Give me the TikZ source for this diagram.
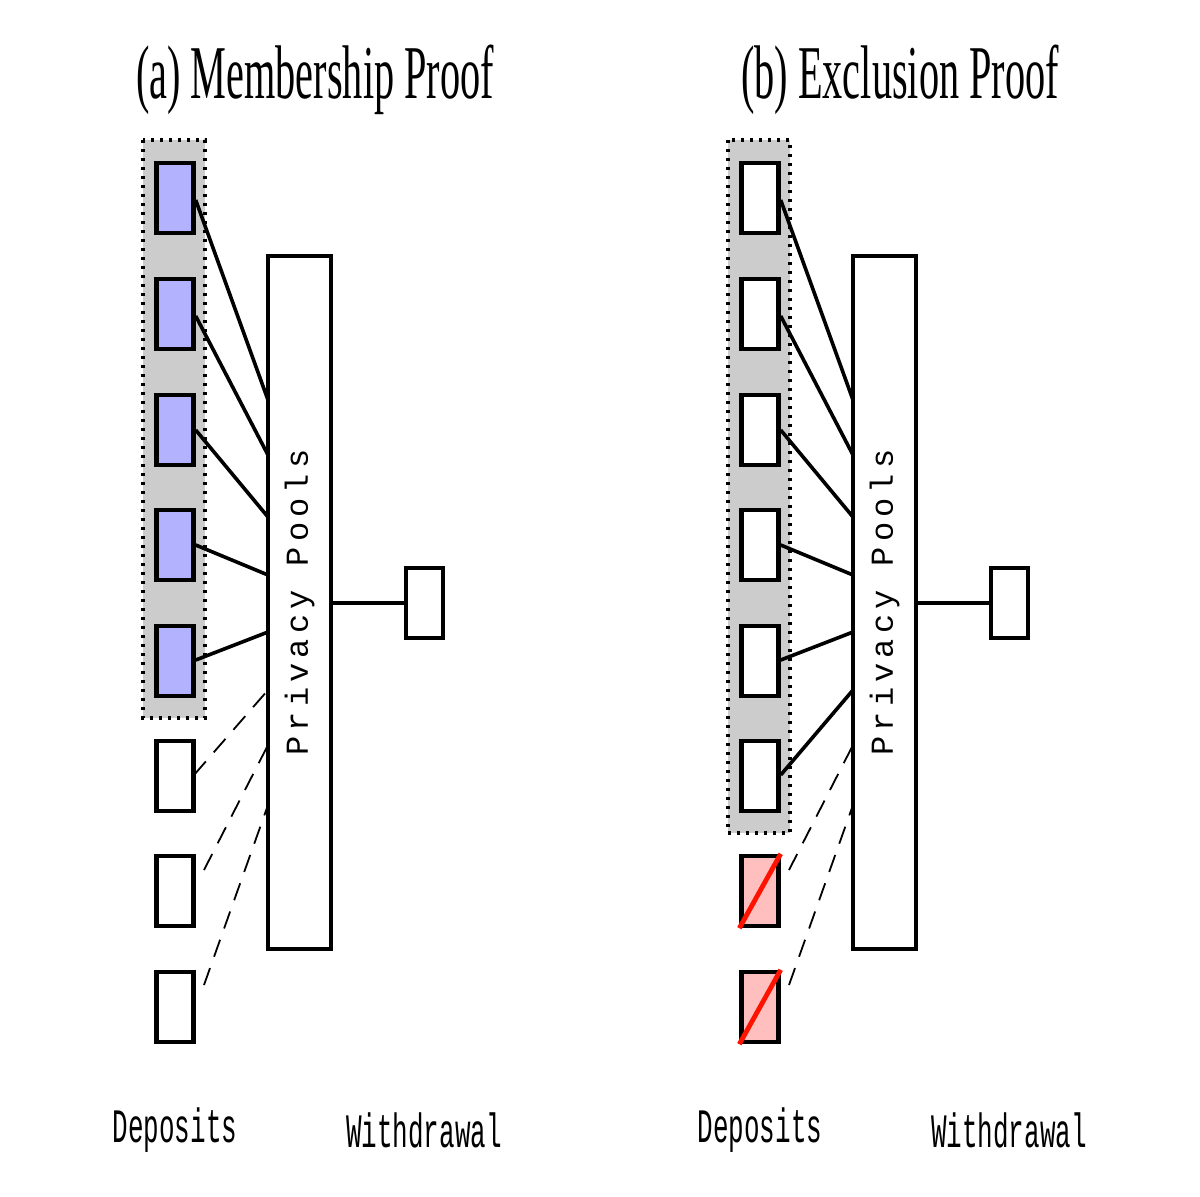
\documentclass[tikz,border=0pt]{standalone}
\usepackage{fontspec}
\setmainfont{Liberation Serif}
\newfontfamily\monof{Liberation Mono}
\newfontfamily\monosp[LetterSpace=16]{Liberation Mono}
\begin{document}
\begin{tikzpicture}[x=0.5pt,y=-0.5pt,
 box/.style={draw,line width=2.2pt},
 cn/.style={line width=1.8pt},
 dcn/.style={line width=0.9pt,dash pattern=on 9pt off 6pt},
 gray box/.style={fill=black!20,draw,line width=2pt,dash pattern=on 1.5pt off 3pt},
 ttl/.style={font=\fontsize{38}{38}\selectfont,xscale=0.53},
 lbl/.style={font=\monof\fontsize{24}{24}\selectfont,xscale=0.54}]
\useasboundingbox (0,0) rectangle (1200,1196);
\foreach \dx/\p in {0/a,585/b}{
 \begin{scope}[xshift=\dx*0.5pt]
 \node[box,fill=white,minimum width=31.5pt,minimum height=346.5pt,inner sep=0] (pool\p) at (299.5,602.5) {};
 \node[rotate=90,font=\monosp\fontsize{16}{16}\selectfont] at (pool\p) {Privacy Pools};
 \node[box,minimum width=18.5pt,minimum height=35pt,inner sep=0] (w\p) at (424.5,603) {};
 \draw[cn] (pool\p.east|-w\p) -- (w\p.west);
 \node[lbl] at (175,1130) {Deposits};
 \node[lbl] at (424,1130) {Withdrawal};
 \end{scope}}
\node[ttl] at (315,80) {(a) Membership Proof};
\node[ttl] at (900,80) {(b) Exclusion Proof};
% left
\draw[gray box] (143,140) rectangle (205,718);
\foreach \i/\y in {1/198,2/314,3/430,4/545,5/661}
 \node[box,fill=blue!30,minimum width=18.5pt,minimum height=35pt,inner sep=0] (a\i) at (175,\y) {};
\foreach \i/\y in {6/776,7/891,8/1007}
 \node[box,fill=white,minimum width=18.5pt,minimum height=35pt,inner sep=0] (a\i) at (175,\y) {};
\coordinate (pa1) at (268,400); \coordinate (pa2) at (268,455);
\coordinate (pa3) at (268,517); \coordinate (pa4) at (268,575);
\coordinate (pa5) at (268,632); \coordinate (pa6) at (268,690);
\coordinate (pa7) at (268,745); \coordinate (pa8) at (268,805);
\foreach \i/\yy in {1/200,2/316,3/430,4/545,5/660}
 \draw[cn] (a\i.east|-0,\yy) -- (pa\i);
\draw[dcn] (194,775) -- (pa6);
\draw[dcn] (204,870) -- (pa7);
\draw[dcn] (204,985) -- (pa8);
% right
\draw[gray box] (728,140) rectangle (790,833);
\foreach \i/\y in {1/198,2/314,3/430,4/545,5/661,6/776}
 \node[box,fill=white,minimum width=18.5pt,minimum height=35pt,inner sep=0] (b\i) at (760,\y) {};
\foreach \i/\y in {7/891,8/1007}{
 \node[box,fill=red!25,minimum width=18.5pt,minimum height=35pt,inner sep=0] (b\i) at (760,\y) {};
 \draw[red!85!orange,line width=2.4pt] (b\i.south west) -- (b\i.north east);}
\coordinate (pb1) at (853,400); \coordinate (pb2) at (853,455);
\coordinate (pb3) at (853,517); \coordinate (pb4) at (853,575);
\coordinate (pb5) at (853,632); \coordinate (pb6) at (853,690);
\coordinate (pb7) at (853,745); \coordinate (pb8) at (853,805);
\foreach \i/\yy in {1/200,2/316,3/430,4/545,5/660,6/775}
 \draw[cn] (b\i.east|-0,\yy) -- (pb\i);
\draw[dcn] (789,870) -- (pb7);
\draw[dcn] (789,985) -- (pb8);
\end{tikzpicture}
\end{document}
